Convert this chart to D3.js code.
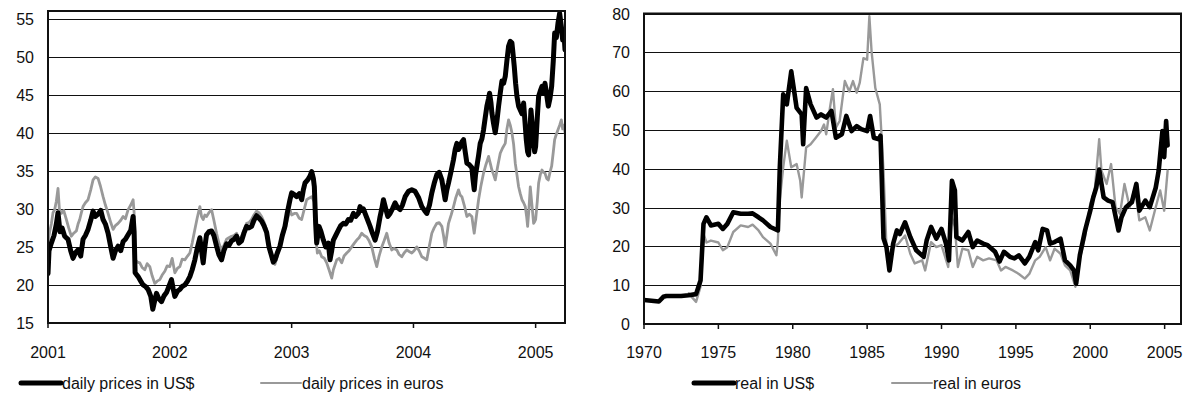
<!DOCTYPE html>
<html>
<head>
<meta charset="utf-8">
<script src="https://cdn.jsdelivr.net/npm/d3@7"></script>
<style>
  body { margin: 0; background: #fff; }
  text { font-family: "Liberation Sans", Arial, sans-serif; font-size: 16px; fill: #111; }
</style>
</head>
<body>
<svg id="chart" width="1196" height="402"></svg>
<script>
// ---- left panel: daily prices, days counted from 1 Jan 2001 ----
const dailyYears = ["2001", "2002", "2003", "2004", "2005"];
const dailyTicks = [15, 20, 25, 30, 35, 40, 45, 50, 55];

const usDays = [0,3,10,18,25,30,36,42,50,60,68,75,82,90,98,105,112,120,128,135,142,150,158,165,172,180,188,195,202,210,218,225,232,240,248,255,258,261,270,278,285,292,300,308,314,318,325,332,340,348,355,
  370,375,380,388,395,402,410,418,425,432,440,447,455,460,465,470,475,482,490,497,505,512,520,527,535,542,550,557,565,572,580,587,595,602,610,617,625,632,640,647,655,662,670,675,680,687,695,702,710,717,725,
  730,740,745,753,760,765,770,778,785,790,795,798,802,805,812,818,825,832,840,845,850,855,862,870,877,885,892,900,907,915,922,930,935,940,945,950,958,965,972,980,987,995,1000,1005,1012,1018,1025,1032,1040,1047,1055,1062,1070,1080,
  1090,1100,1110,1120,1128,1135,1143,1150,1158,1165,1172,1180,1185,1190,1195,1200,1208,1215,1220,1225,1230,1235,1240,1245,1250,1255,1262,1270,1273,1277,1281,1285,1290,1295,1300,1305,1310,1315,1320,1323,1327,1330,1335,1340,1345,1350,1355,1360,1365,1370,1375,1380,1385,1390,1393,1397,1401,1405,1410,1415,1420,1425,1429,1433,1437,1440,1443,1447,1451,1455,1458,
  1461,1466,1470,1475,1480,1484,1489,1494,1499,1504,1509,1514,1518,1523,1528,1533,1538,1542,1546,1549];
const usPrice = [21.5,24.5,25.5,26.5,28,29.5,27,27.5,26.4,26,24.5,23.5,24.2,24.6,23.8,26,26.5,27.3,28.5,29.7,29,29.3,29.8,28.6,28,26.8,25,23.5,24.5,25.1,24.5,25.7,26,26.6,27.2,29,27,21.6,21.1,20.5,20,19.8,19.4,18.5,16.8,17.6,18.9,18.2,17.8,18.6,19,
  20.7,19.5,18.5,19.2,19.4,19.8,20,20.5,21.1,22,23.3,24.8,26.2,24.5,22.9,25,26.6,27,27.1,26.5,25.1,24,23.3,24.5,25.4,25.2,25.8,26,26.4,25.5,25.8,26.8,27.7,27.5,27.7,28.5,29.1,28.8,28.4,27.8,26.9,25,23.8,23,23.3,24.2,25.1,26.5,27.7,29.5,31.2,
  32.1,31.8,31.6,32,31.2,32.5,33.4,33.8,34.3,34.9,34,32.9,28,25.5,27.7,27,25.9,25,25.5,23.3,24.5,25.9,26.5,27.2,27.8,28.1,28,28.6,28.5,29.4,29,29.4,30.3,29.8,30,29.4,28.5,27.7,26.8,25.9,27,29,30,31.2,30,29,29.4,30,30.8,30.2,29.9,30.5,31.6,32.3,
  32.5,32.3,31.5,30.3,29.8,29.4,30.5,32.1,33.5,34.5,34.8,33.8,32.5,31.2,32.5,33.4,35,36.5,37.8,38.6,37.8,38.2,38.8,39.1,37.5,36,35.8,35.4,34,32.5,34.5,35.6,37,38.6,39.2,40.4,42,43.5,44.5,45.2,44,42.6,41.2,40,41.5,43.5,45.2,46.8,46.5,47.4,49.5,51.4,52,51.8,50.5,48.7,46.5,44.8,43.5,43,42.5,43.9,41.5,39.1,37.5,37.1,39.5,43,41,38.6,37.5,
  38.2,42,44.8,45.5,46.1,45.2,46.5,45,43.5,44.5,46.1,49.5,53.1,52.5,54.4,55.7,54,52.2,53,50.9];

const euroDays = [0,5,10,15,20,25,30,34,40,47,55,62,70,77,85,90,95,100,105,112,120,128,135,142,150,157,165,172,180,188,195,202,210,218,225,232,240,248,255,258,261,268,275,282,290,297,305,312,320,327,335,342,350,357,
  365,372,380,388,395,402,410,418,425,432,440,447,455,460,465,470,475,482,490,497,505,512,520,527,535,542,550,557,565,572,580,587,595,602,610,617,625,632,640,647,655,662,670,675,680,687,695,702,710,717,725,
  730,738,745,752,760,768,775,782,790,795,800,803,807,813,820,828,835,842,850,855,865,872,880,887,895,902,910,918,925,932,940,947,955,962,970,978,985,992,1000,1007,1015,1022,1030,1037,1045,1052,1060,1067,1075,1082,1090,
  1097,1105,1112,1120,1128,1135,1142,1150,1157,1165,1172,1180,1185,1190,1195,1200,1208,1215,1222,1230,1235,1240,1247,1255,1262,1270,1273,1277,1282,1290,1297,1305,1312,1320,1325,1330,1335,1340,1347,1355,1362,1370,1375,1380,1385,1390,1395,1400,1405,1410,1415,1420,1425,1430,1434,1437,1441,1445,1450,1455,1458,
  1461,1466,1470,1475,1480,1484,1489,1494,1499,1504,1509,1514,1518,1523,1528,1533,1538,1542,1546,1549];
const euroPrice = [25.5,27,28,29.5,29.9,31,32.7,30,29.4,29.8,28.6,27.5,26.4,26.8,27.1,28,28.6,29.5,30.3,30.8,31.2,32.5,33.8,34.2,34,33,31.6,30.5,29.4,28.2,27.3,27.8,28.1,28.5,29,28.7,29.9,30.5,31.2,29.5,23.3,23,22.9,22.3,22,22.8,22.4,21.2,20.2,20.5,20.7,21.3,21.8,22.5,
  22.4,23.5,21.6,22.2,22.4,23.4,23.3,23.8,24.2,25.5,27.3,28.8,30.3,29,28.6,29.2,29,29.5,29.9,28.5,26.8,25.5,24.6,25.2,26,26.2,26.4,26.5,26.8,26,26.4,27.2,28.1,28.2,28.6,29.2,29.7,29.5,29,28.3,27.3,25.5,24,23.2,22.7,23.8,25.1,26.2,27.3,28.5,29.9,
  29.2,29.4,29.4,28.8,28.6,30,31.2,31.4,31.6,31.2,30.8,26,24.2,24.5,23.7,23.5,22.9,22,20.9,22,23.3,23.5,22.9,23.8,24.2,24.5,25,25.5,25.9,26.2,26.8,26.5,26.3,25.8,25,23.5,22.4,23.8,25,25.8,26.8,25.5,24.6,24.8,24.6,24,23.7,24.2,24.6,24.4,24.2,
  24.5,25,24.5,23.7,23.5,23.3,25,26.8,27.5,28.1,28.2,27.7,26.5,25,26.5,28.1,29.2,30.3,31.5,32.5,31.8,31.6,30.5,29,29.3,29,28,26.8,28.5,31.2,33,34.7,35.8,36.9,36,35.1,34.5,33.8,35.5,37.3,38,38.6,40.5,41.7,41,40,38.5,36,34.5,32.9,32,31.2,30.8,30.3,29,27.7,30,32.9,30.5,28.1,28.3,
  28.6,31,33.4,34.5,35.1,34.8,34.7,34,33.8,34.8,35.6,37.5,39.1,39.8,40.4,41,41.7,40.5,41,40];

// ---- right panel: real prices by year ----
const realYearTicks = [1970, 1975, 1980, 1985, 1990, 1995, 2000, 2005];
const realTicks = [0, 10, 20, 30, 40, 50, 60, 70, 80];

const realUsYears = [1970,1970.5,1971,1971.3,1971.5,1972,1972.5,1973,1973.5,1973.8,1974,1974.2,1974.5,1975,1975.3,1975.6,1976,1976.5,1977,1977.3,1977.7,1978,1978.5,1979,1979.13,1979.36,1979.6,1979.9,1980.26,1980.6,1980.7,1980.9,1981.2,1981.6,1981.9,1982.25,1982.6,1982.9,1983.3,1983.6,1983.95,1984.3,1984.6,1985,1985.2,1985.45,1985.8,1985.9,
  1986.1,1986.3,1986.5,1986.75,1987,1987.2,1987.55,1987.9,1988.3,1988.8,1989,1989.3,1989.65,1990,1990.3,1990.5,1990.7,1990.9,1991,1991.4,1991.8,1992.1,1992.4,1992.8,1993.1,1993.6,1993.9,1994.2,1994.6,1994.9,1995.2,1995.6,1995.9,1996.3,1996.5,1996.8,1997.1,1997.3,1997.6,1998,1998.3,1998.65,1998.9,1999.05,1999.3,1999.65,
  2000,2000.2,2000.4,2000.6,2000.9,2001.2,2001.5,2001.9,2002.1,2002.4,2002.8,2003.1,2003.3,2003.7,2004,2004.4,2004.6,2004.85,2004.97,2005.1,2005.2];
const realUs = [6.2,6,5.8,7,7.2,7.2,7.2,7.4,7.7,11.2,25.8,27.5,25.4,25.8,24.5,25.8,28.8,28.4,28.4,28.5,27.5,26.7,25,24.1,40.4,59.2,56.6,65.1,55.7,54,46.3,60.8,56.6,53.2,54,53.2,54.9,48,48.9,53.6,49.7,51,50.2,49.7,53.6,48,47.6,48.5,
  22.1,19.8,13.8,20.7,24.1,23.2,26.2,22.4,19,17.3,21.5,25,22,24.5,20.7,16.4,36.9,34.4,22.4,21.5,23.7,19.8,21.5,20.7,20.3,18.6,16.1,18.6,17.3,16.9,17.7,15.6,17.3,21.1,19,24.5,24.1,20.7,21.1,22,16.4,15.1,13.8,10.4,17.7,24.1,
  29.2,32.6,35.1,39.8,32.6,31.8,31.4,24.1,27.5,30.1,31.4,36.1,29.2,31.8,30.1,35.1,39.5,49.7,43,52.3,46];

const realEurYears = [1973,1973.5,1973.8,1974,1974.2,1974.5,1975,1975.3,1975.6,1976,1976.5,1977,1977.3,1977.7,1978,1978.5,1978.9,1979,1979.1,1979.36,1979.6,1979.9,1980.26,1980.5,1980.6,1980.9,1981.2,1981.55,1981.9,1982.1,1982.25,1982.5,1982.7,1982.9,1983.15,1983.5,1983.8,1984.05,1984.3,1984.5,1984.75,1985,1985.15,1985.3,1985.55,1985.85,
  1986.1,1986.3,1986.5,1986.75,1987.1,1987.55,1987.9,1988.2,1988.7,1988.9,1989.3,1989.65,1990,1990.45,1990.7,1990.9,1991.1,1991.4,1991.8,1992.1,1992.4,1992.8,1993.2,1993.7,1994,1994.3,1994.8,1995.2,1995.6,1995.9,1996.3,1996.6,1997,1997.3,1997.6,1998,1998.3,1998.65,1999,1999.3,1999.65,
  2000,2000.3,2000.6,2000.75,2001.1,2001.4,2001.7,2002,2002.3,2002.65,2003,2003.3,2003.7,2004,2004.4,2004.7,2004.97,2005.2];
const realEur = [7.9,5.7,9.6,23.2,21,21.5,21,19,19.8,23.7,25.4,25,25.6,24.1,22.4,20.7,17.7,21.5,30.9,40.4,47.2,40.4,41.2,37,32.6,45.5,46.3,48,49.7,51.4,48.9,55.7,60.5,50.6,52.3,62.6,59.9,62.6,59.6,62.1,68.5,68.1,79.3,70.2,60.8,56.6,
  39.5,19.8,14.3,19.8,20.7,22.8,18.1,15.6,16.4,13.8,21.1,19.8,20.3,14.7,27.5,25,14.7,19.4,19,14.7,17.3,16.4,16.9,16.4,13.8,14.7,13.8,12.9,11.7,12.9,16.4,17.3,19.8,16.4,19.4,18.1,15.1,13.8,9.6,16.9,22.4,
  31,34.4,47.6,39.5,36.1,41.2,30.1,28.4,36.1,30.1,35.1,26.7,27.5,24.1,30.1,34.4,29.2,39.5];

const svg = d3.select("#chart");

function panel(opts) {
  const { x, y, xTicks, xFormat, yTicks, series, legend, clipId } = opts;
  const [x0, x1] = x.range();
  const [y0, y1] = y.range();
  const g = svg.append("g");

  g.append("clipPath").attr("id", clipId)
    .append("rect").attr("x", x0).attr("y", y1).attr("width", x1 - x0).attr("height", y0 - y1);

  // horizontal gridlines
  g.selectAll(".grid").data(yTicks).join("line")
    .attr("x1", x0).attr("x2", x1)
    .attr("y1", d => Math.round(y(d)) + 0.5).attr("y2", d => Math.round(y(d)) + 0.5)
    .attr("stroke", "#111").attr("stroke-width", 1);

  // y labels
  g.selectAll(".ylab").data(yTicks).join("text")
    .attr("x", x0 - 14).attr("y", d => y(d) + 6)
    .attr("text-anchor", "end").text(d => d);

  // x ticks + labels
  g.selectAll(".xtick").data(xTicks).join("line")
    .attr("x1", d => x(d)).attr("x2", d => x(d))
    .attr("y1", y0).attr("y2", y0 + 5)
    .attr("stroke", "#111").attr("stroke-width", 1.5);
  g.selectAll(".xlab").data(xTicks).join("text")
    .attr("x", d => x(d)).attr("y", 358)
    .attr("text-anchor", "middle").text(xFormat);

  // lines
  series.forEach(s => {
    const pts = s.xs.map((v, i) => [x(s.xf(v)), y(s.ys[i])]);
    g.append("path")
      .attr("clip-path", `url(#${clipId})`)
      .attr("d", d3.line()(pts))
      .attr("fill", "none").attr("stroke", s.color).attr("stroke-width", s.width)
      .attr("stroke-linejoin", "round").attr("stroke-linecap", "round");
  });

  // frame
  g.append("rect").attr("x", x0).attr("y", y1).attr("width", x1 - x0).attr("height", y0 - y1)
    .attr("fill", "none").attr("stroke", "#111").attr("stroke-width", 2);

  // legend
  legend.forEach(l => {
    g.append("line").attr("x1", l.x).attr("x2", l.x + 40).attr("y1", 383).attr("y2", 383)
      .attr("stroke", l.color).attr("stroke-width", l.width).attr("stroke-linecap", "round");
    g.append("text").attr("x", l.x + 41).attr("y", 389).text(l.label);
  });
}

const start = new Date(2001, 0, 1);
const dayDate = d => d3.timeDay.offset(start, d);

panel({
  clipId: "clipL",
  x: d3.scaleTime().domain([start, dayDate(1549)]).range([48, 565]),
  y: d3.scaleLinear().domain([15, 56]).range([323, 11]),
  xTicks: dailyYears.map(s => new Date(+s, 0, 1)),
  xFormat: d3.timeFormat("%Y"),
  yTicks: dailyTicks,
  series: [
    { xs: euroDays, ys: euroPrice, xf: dayDate, color: "#999", width: 2.8 },
    { xs: usDays, ys: usPrice, xf: dayDate, color: "#000", width: 5 }
  ],
  legend: [
    { x: 21, color: "#000", width: 5, label: "daily prices in US$" },
    { x: 261, color: "#999", width: 2, label: "daily prices in euros" }
  ]
});

panel({
  clipId: "clipR",
  x: d3.scaleLinear().domain([1970, 2006.1]).range([644, 1181]),
  y: d3.scaleLinear().domain([0, 80]).range([324, 13.5]),
  xTicks: realYearTicks,
  xFormat: d => d,
  yTicks: realTicks,
  series: [
    { xs: realEurYears, ys: realEur, xf: v => v, color: "#999", width: 2.4 },
    { xs: realUsYears, ys: realUs, xf: v => v, color: "#000", width: 4.6 }
  ],
  legend: [
    { x: 694, color: "#000", width: 5, label: "real in US$" },
    { x: 892, color: "#999", width: 2, label: "real in euros" }
  ]
});
</script>
</body>
</html>
